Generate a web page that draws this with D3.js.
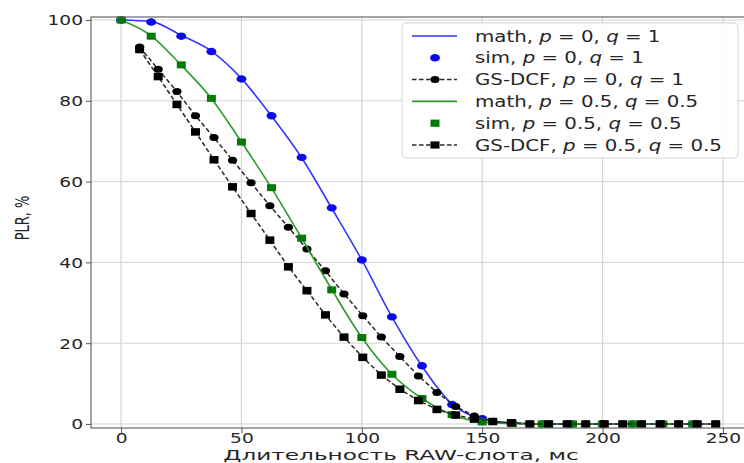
<!DOCTYPE html>
<html>
<head>
<meta charset="utf-8">
<script src="https://cdn.jsdelivr.net/npm/d3@7"></script>
<style>
	body { margin: 0; background: #fff; }
	text { font-family: "DejaVu Sans", sans-serif; }
</style>
</head>
<body>
<div id="chart"></div>
<script>

///////////////////////////////////////////////////////////////////////////
///////////////////////////////// Data ////////////////////////////////////
///////////////////////////////////////////////////////////////////////////

//Slot durations of the model / simulation points, ms
var simX = [0, 12.5, 25, 37.5, 50, 62.5, 75, 87.5, 100, 112.5, 125, 137.5, 150, 162.5, 175, 187.5, 200, 212.5, 225, 237.5];
//p = 0, q = 1
var mathBlue = [100, 99.6, 96.2, 92.3, 85.5, 76.2, 65.9, 53.4, 40.6, 26.5, 14.3, 4.9, 1.2, 0.2, 0, 0, 0, 0, 0, 0];
var simBlue  = [100, 99.5, 96.0, 92.2, 85.4, 76.3, 66.0, 53.5, 40.6, 26.5, 14.4, 4.8, 1.3, 0.2, 0, 0, 0, 0, 0, 0];
//p = 0.5, q = 0.5
var mathGreen = [100, 96.1, 88.8, 80.6, 69.8, 58.4, 46.0, 33.3, 21.4, 12.3, 6.3, 2.3, 0.5, 0.1, 0, 0, 0, 0, 0, 0];
var simGreen  = [100, 96.0, 88.9, 80.6, 69.8, 58.5, 46.0, 33.2, 21.4, 12.3, 6.3, 2.3, 0.5, 0.1, 0, 0, 0, 0, 0, 0];

//GS-DCF points
var gsX = [7.7, 15.4, 23.2, 30.9, 38.6, 46.3, 54.0, 61.8, 69.5, 77.2, 84.9, 92.6, 100.4, 108.1, 115.8, 123.5,
	131.2, 139.0, 146.7, 154.4, 162.1, 169.8, 177.6, 185.3, 193.0, 200.7, 208.4, 216.2, 223.9, 231.6, 239.3, 247.0];
var gsCircle = [93.3, 87.8, 82.3, 76.3, 70.9, 65.3, 59.7, 54.0, 48.7, 43.3, 37.9, 32.2, 26.8, 21.5, 16.7, 11.9,
	7.8, 4.3, 2.0, 0.7, 0.2, 0, 0, 0, 0, 0, 0, 0, 0, 0, 0, 0];
var gsSquare = [92.7, 86.0, 79.1, 72.3, 65.4, 58.7, 52.1, 45.5, 38.9, 33.0, 27.0, 21.5, 16.5, 12.1, 8.6, 5.8,
	3.6, 2.2, 1.2, 0.6, 0.3, 0, 0, 0, 0, 0, 0, 0, 0, 0, 0, 0];

var xTicks = [0, 50, 100, 150, 200, 250];
var yTicks = [0, 20, 40, 60, 80, 100];

///////////////////////////////////////////////////////////////////////////
//////////////////// Set up and initiate svg container ////////////////////
///////////////////////////////////////////////////////////////////////////

var width = 744;
var height = 463;

//The picture is stretched sideways, so text gets a horizontal scale
var textStretch = 1.38;

var svg = d3.select("#chart")
	.append("svg")
	.attr("width", width)
	.attr("height", height);

var x = d3.scaleLinear()
	.domain([-12.5, 262.5])
	.range([91, 753]);

var y = d3.scaleLinear()
	.domain([-1, 100.75])
	.range([428, 17]);

///////////////////////////////////////////////////////////////////////////
//////////////////////////////// Grid /////////////////////////////////////
///////////////////////////////////////////////////////////////////////////

var grid = svg.append("g").attr("class", "grid");

grid.selectAll(".vgrid")
	.data(xTicks)
	.enter().append("line")
	.attr("x1", function(d) { return x(d); })
	.attr("x2", function(d) { return x(d); })
	.attr("y1", y.range()[0])
	.attr("y2", y.range()[1])
	.style("stroke", "#d4d4d4")
	.style("stroke-width", 1.2);

grid.selectAll(".hgrid")
	.data(yTicks)
	.enter().append("line")
	.attr("x1", x.range()[0])
	.attr("x2", x.range()[1])
	.attr("y1", function(d) { return y(d); })
	.attr("y2", function(d) { return y(d); })
	.style("stroke", "#d4d4d4")
	.style("stroke-width", 1);

///////////////////////////////////////////////////////////////////////////
//////////////////////////////// Series ///////////////////////////////////
///////////////////////////////////////////////////////////////////////////

var smoothLine = d3.line()
	.x(function(d) { return x(d[0]); })
	.y(function(d) { return y(d[1]); })
	.curve(d3.curveMonotoneX);

var straightLine = d3.line()
	.x(function(d) { return x(d[0]); })
	.y(function(d) { return y(d[1]); });

function zipped(xs, ys) {
	return xs.map(function(d, i) { return [d, ys[i]]; });
}

function drawCircles(data, colour, rx, ry) {
	svg.append("g").selectAll("ellipse")
		.data(data)
		.enter().append("ellipse")
		.attr("cx", function(d) { return x(d[0]); })
		.attr("cy", function(d) { return y(d[1]); })
		.attr("rx", rx)
		.attr("ry", ry)
		.style("fill", colour);
}

function drawSquares(data, colour, w, h) {
	svg.append("g").selectAll("rect")
		.data(data)
		.enter().append("rect")
		.attr("x", function(d) { return x(d[0]) - w/2; })
		.attr("y", function(d) { return y(d[1]) - h/2; })
		.attr("width", w)
		.attr("height", h)
		.style("fill", colour);
}

//math, p = 0, q = 1
svg.append("path")
	.attr("d", smoothLine(zipped(simX, mathBlue)))
	.style("fill", "none")
	.style("stroke", "#3535ff")
	.style("stroke-width", 1.6);

//sim, p = 0, q = 1
drawCircles(zipped(simX, simBlue), "#0a0aee", 5, 3.7);

//GS-DCF, p = 0, q = 1
svg.append("path")
	.attr("d", straightLine(zipped(gsX, gsCircle)))
	.style("fill", "none")
	.style("stroke", "#2a2a2a")
	.style("stroke-width", 1.5)
	.style("stroke-dasharray", "4.5,2.5");
drawCircles(zipped(gsX, gsCircle), "#000", 4.6, 3.5);

//math, p = 0.5, q = 0.5
svg.append("path")
	.attr("d", smoothLine(zipped(simX, mathGreen)))
	.style("fill", "none")
	.style("stroke", "#2c9a2c")
	.style("stroke-width", 1.6);

//sim, p = 0.5, q = 0.5
drawSquares(zipped(simX, simGreen), "#067a06", 9, 7);

//GS-DCF, p = 0.5, q = 0.5
svg.append("path")
	.attr("d", straightLine(zipped(gsX, gsSquare)))
	.style("fill", "none")
	.style("stroke", "#2a2a2a")
	.style("stroke-width", 1.5)
	.style("stroke-dasharray", "4.5,2.5");
drawSquares(zipped(gsX, gsSquare), "#000", 9, 7.5);

///////////////////////////////////////////////////////////////////////////
//////////////////////////////// Axes /////////////////////////////////////
///////////////////////////////////////////////////////////////////////////

var xAxis = svg.append("g")
	.attr("transform", "translate(0," + y.range()[0] + ")")
	.call(d3.axisBottom(x).tickValues(xTicks).tickSize(5).tickPadding(0).tickSizeOuter(0));

var yAxis = svg.append("g")
	.attr("transform", "translate(" + x.range()[0] + ",0)")
	.call(d3.axisLeft(y).tickValues(yTicks).tickSize(5).tickPadding(3).tickSizeOuter(0));

[xAxis, yAxis].forEach(function(ax) {
	ax.select(".domain").remove();
	ax.selectAll(".tick line").style("stroke", "#555").style("stroke-width", 1);
	ax.selectAll(".tick text")
		.style("font-family", "DejaVu Sans")
		.style("font-size", "13.5px")
		.style("fill", "#262626")
		.attr("transform", "scale(" + textStretch + ",1)");
});
yAxis.selectAll(".tick text").attr("x", -8 / textStretch).attr("dy", "0.36em");

//Axis box
svg.append("rect")
	.attr("x", x.range()[0])
	.attr("y", y.range()[1])
	.attr("width", x.range()[1] - x.range()[0])
	.attr("height", y.range()[0] - y.range()[1])
	.style("fill", "none")
	.style("stroke", "#5a5a5a")
	.style("stroke-width", 1.1);

//Axis titles
svg.append("text")
	.attr("transform", "translate(401,459.5) scale(1.6,1)")
	.attr("text-anchor", "middle")
	.style("font-size", "14.5px")
	.style("fill", "#262626")
	.text("Длительность RAW-слота, мс");

svg.append("text")
	.attr("transform", "translate(29,218) rotate(-90) scale(1,1.45)")
	.attr("text-anchor", "middle")
	.style("font-size", "13px")
	.style("fill", "#262626")
	.text("PLR, %");

///////////////////////////////////////////////////////////////////////////
/////////////////////////////// Legend ////////////////////////////////////
///////////////////////////////////////////////////////////////////////////

var legendNames = ["math", "sim", "GS-DCF", "math", "sim", "GS-DCF"];
var legendP = ["0", "0", "0", "0.5", "0.5", "0.5"];
var legendQ = ["1", "1", "1", "0.5", "0.5", "0.5"];
var legendKind = ["blueLine", "blueDot", "gsDot", "greenLine", "greenSquare", "gsSquare"];

var legend = svg.append("g").attr("class", "legend");

legend.append("rect")
	.attr("x", 402)
	.attr("y", 23)
	.attr("width", 336)
	.attr("height", 135)
	.attr("rx", 4)
	.style("fill", "#fff")
	.style("fill-opacity", 0.85)
	.style("stroke", "#d6d6d6")
	.style("stroke-width", 1);

var rowY = d3.scaleLinear().domain([0, 5]).range([36, 145]);

legendKind.forEach(function(kind, i) {
	var cy = rowY(i);
	var row = legend.append("g");

	if (kind === "blueLine" || kind === "greenLine") {
		row.append("line")
			.attr("x1", 412).attr("x2", 457).attr("y1", cy).attr("y2", cy)
			.style("stroke", kind === "blueLine" ? "#3535ff" : "#2c9a2c")
			.style("stroke-width", 1.6);
	}
	if (kind === "gsDot" || kind === "gsSquare") {
		row.append("line")
			.attr("x1", 412).attr("x2", 457).attr("y1", cy).attr("y2", cy)
			.style("stroke", "#2a2a2a")
			.style("stroke-width", 1.5)
			.style("stroke-dasharray", "4.5,2.5");
	}
	if (kind === "blueDot" || kind === "gsDot") {
		row.append("ellipse")
			.attr("cx", 435).attr("cy", cy)
			.attr("rx", kind === "blueDot" ? 5 : 4.6)
			.attr("ry", kind === "blueDot" ? 3.7 : 3.5)
			.style("fill", kind === "blueDot" ? "#0a0aee" : "#000");
	}
	if (kind === "greenSquare" || kind === "gsSquare") {
		row.append("rect")
			.attr("x", 435 - 4.5).attr("y", cy - 3.6)
			.attr("width", 9).attr("height", 7.2)
			.style("fill", kind === "greenSquare" ? "#067a06" : "#000");
	}

	var label = row.append("text")
		.attr("transform", "translate(475," + (cy + 5.5) + ") scale(1.32,1)")
		.style("font-size", "15px")
		.style("fill", "#262626");
	label.append("tspan").text(legendNames[i] + ", ");
	label.append("tspan").style("font-style", "italic").text("p");
	label.append("tspan").text(" = " + legendP[i] + ", ");
	label.append("tspan").style("font-style", "italic").text("q");
	label.append("tspan").text(" = " + legendQ[i]);
});

</script>
</body>
</html>
